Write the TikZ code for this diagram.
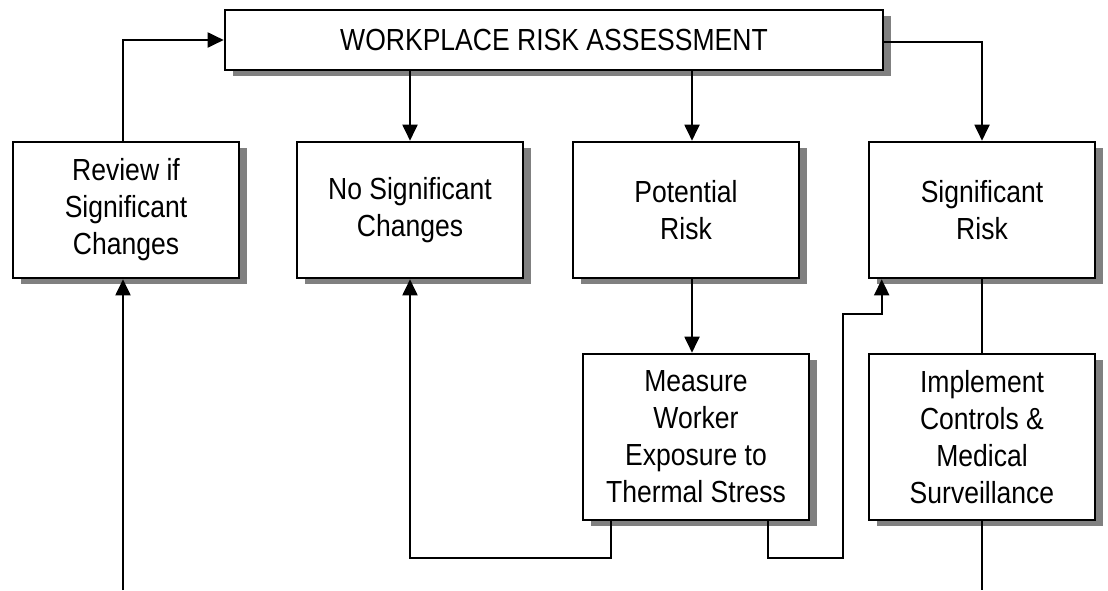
\documentclass[tikz,border=0pt]{standalone}
\usepackage{fontspec}
\setmainfont{Liberation Sans}[FakeStretch=0.87]
\usetikzlibrary{shadows,arrows.meta}
\begin{document}
\begin{tikzpicture}[x=1pt,y=-1pt,
  box/.style={draw=black, line width=2.6pt, fill=white, rectangle, align=center,
    minimum width=226pt, inner sep=0pt,
    font=\fontsize{30.5}{37}\selectfont,
    drop shadow={shadow xshift=8pt, shadow yshift=-6pt, fill=black!50, opacity=1}},
  conn/.style={line width=1.9pt},
  arr/.style={conn, -{Triangle[length=16pt,width=15pt]}}]
\useasboundingbox (0,0) rectangle (1108,590);
\node[box, minimum width=658pt, minimum height=60pt] (wra) at (554,40) {WORKPLACE RISK ASSESSMENT};
\node[box, minimum height=136pt] (review) at (126,210) {Review if\\Significant\\Changes};
\node[box, minimum height=136pt] (nosig) at (410,210) {No Significant\\Changes};
\node[box, minimum height=136pt] (pot) at (686,210) {Potential\\Risk};
\node[box, minimum height=136pt] (sig) at (982,210) {Significant\\Risk};
\node[box, minimum height=166pt] (meas) at (696,437) {Measure\\Worker\\Exposure to\\Thermal Stress};
\node[box, minimum height=166pt] (impl) at (982,437) {Implement\\Controls \&\\Medical\\Surveillance};
\coordinate (bl) at (123,590);
\coordinate (br) at (982,590);
\coordinate (c1) at (843,314);
\draw[arr] ([xshift=-3pt]review.north) |- (wra.west);
\draw[arr] (nosig.north |- wra.south) -- (nosig.north);
\draw[arr] ([xshift=6pt]pot.north |- wra.south) -- ([xshift=6pt]pot.north);
\draw[arr] ([yshift=-2pt]wra.east) -| (sig.north);
\draw[arr] ([xshift=6pt]pot.south) -- ([xshift=6pt]pot.south |- meas.north);
\draw[arr] (bl) -- (bl |- review.south);
\draw[arr] ([xshift=29pt]meas.south west) -- ++(0,37) -| (nosig.south);
\draw[arr] ([xshift=186pt]meas.south west) -- ++(0,37) -| (c1) -| ([xshift=14pt]sig.south west);
\draw[conn] (sig.south) -- (impl.north);
\draw[conn] (impl.south) -- (br);
\end{tikzpicture}
\end{document}
